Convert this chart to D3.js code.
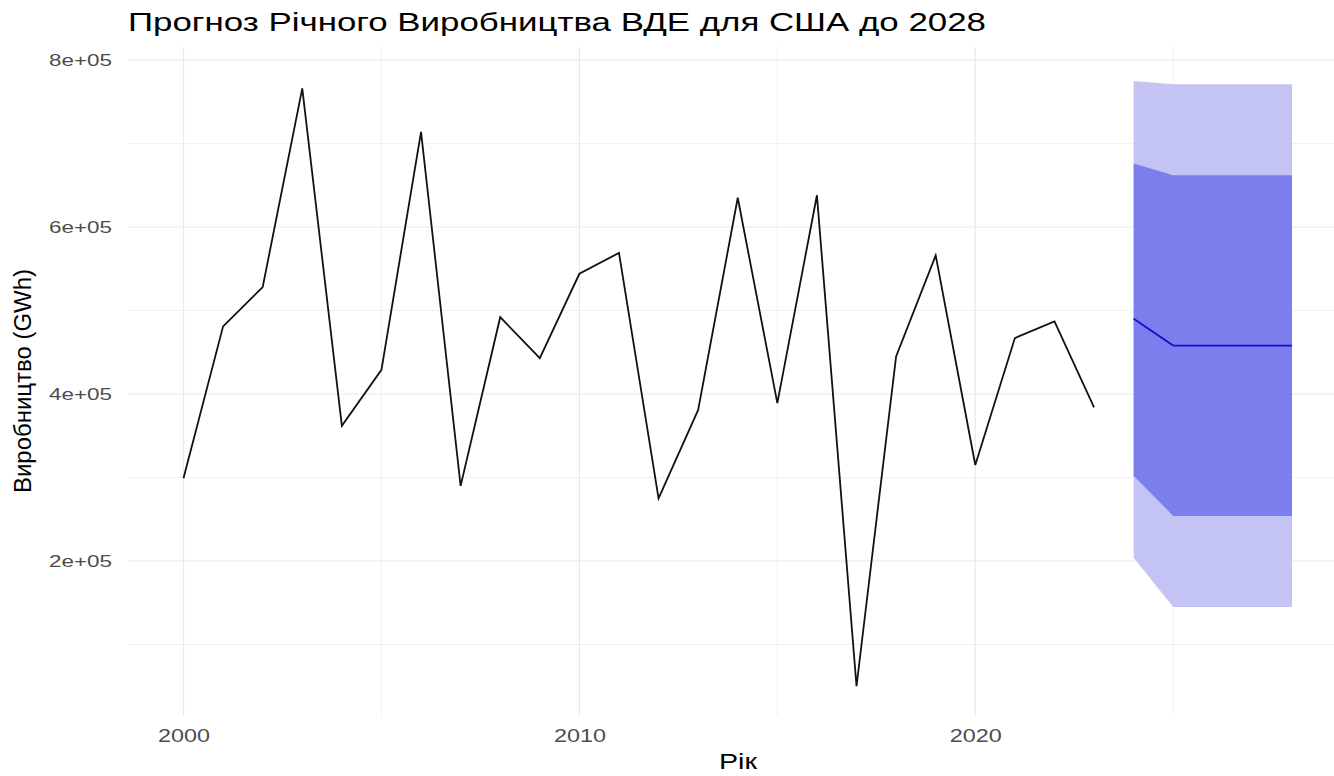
<!DOCTYPE html>
<html>
<head>
<meta charset="utf-8">
<script src="https://cdn.jsdelivr.net/npm/d3@7"></script>
<style>
  html, body { margin: 0; padding: 0; background: #ffffff; }
  svg { display: block; }
  text { font-family: "Liberation Sans", Arial, sans-serif; }
</style>
</head>
<body>
<script>
(function() {

  // historical series
  const years = [2000, 2001, 2002, 2003, 2004, 2005, 2006, 2007, 2008, 2009, 2010, 2011,
                 2012, 2013, 2014, 2015, 2016, 2017, 2018, 2019, 2020, 2021, 2022, 2023];
  const production = [299000, 481000, 528000, 766000, 362000, 429000, 714000, 290000,
                      492000, 443000, 544000, 569000, 275000, 381000, 635000, 389000,
                      638000, 50000, 445000, 566000, 315000, 467000, 487000, 384000];

  // forecast
  const forecastYears = [2024, 2025, 2026, 2027, 2028];
  const forecastMean  = [490000, 458000, 458000, 458000, 458000];
  const lo80 = [302000, 254000, 254000, 254000, 254000];
  const hi80 = [676000, 662000, 662000, 662000, 662000];
  const lo95 = [204000, 145000, 145000, 145000, 145000];
  const hi95 = [775000, 771000, 771000, 771000, 771000];

  // ticks
  const xTicks = [2000, 2010, 2020];
  const xMinor = [2005, 2015, 2025];
  const yTicks = [200000, 400000, 600000, 800000];
  const yMinor = [100000, 300000, 500000, 700000];

  const width = 1334, height = 776;
  const panel = { left: 128, right: 1334, top: 47, bottom: 716 };

  let svg = d3.select("body")
    .append("svg")
    .attr("width", width)
    .attr("height", height);

  let xScale = d3.scaleLinear()
    .domain([2000, 2028])
    .range([183.5, 1292]);

  let yScale = d3.scaleLinear()
    .domain([0, 800000])
    .range([728, 60]);

  // R style scientific labels, e.g. 8e+05
  function sci(v) {
    let parts = v.toExponential(0).split("e");
    let exp = parts[1];
    return parts[0] + "e" + exp[0] + exp.slice(1).padStart(2, "0");
  }

  // grid
  let grid = svg.append("g");
  grid.selectAll(".ymin").data(yMinor).enter().append("line")
    .attr("x1", panel.left).attr("x2", panel.right)
    .attr("y1", d => yScale(d)).attr("y2", d => yScale(d))
    .attr("stroke", "#ededed").attr("stroke-width", 0.8);
  grid.selectAll(".xmin").data(xMinor).enter().append("line")
    .attr("x1", d => xScale(d)).attr("x2", d => xScale(d))
    .attr("y1", panel.top).attr("y2", panel.bottom)
    .attr("stroke", "#ededed").attr("stroke-width", 0.8);
  grid.selectAll(".ymaj").data(yTicks).enter().append("line")
    .attr("x1", panel.left).attr("x2", panel.right)
    .attr("y1", d => yScale(d)).attr("y2", d => yScale(d))
    .attr("stroke", "#e9e9e9").attr("stroke-width", 1.2);
  grid.selectAll(".xmaj").data(xTicks).enter().append("line")
    .attr("x1", d => xScale(d)).attr("x2", d => xScale(d))
    .attr("y1", panel.top).attr("y2", panel.bottom)
    .attr("stroke", "#e9e9e9").attr("stroke-width", 1.2);

  // forecast bands
  let fc = forecastYears.map((y, i) => ({
    year: y, mean: forecastMean[i], lo80: lo80[i], hi80: hi80[i], lo95: lo95[i], hi95: hi95[i]
  }));

  let area95 = d3.area()
    .x(d => xScale(d.year))
    .y0(d => yScale(d.lo95))
    .y1(d => yScale(d.hi95));
  let area80 = d3.area()
    .x(d => xScale(d.year))
    .y0(d => yScale(d.lo80))
    .y1(d => yScale(d.hi80));

  svg.append("path").datum(fc).attr("d", area95).attr("fill", "#c4c4f4");
  svg.append("path").datum(fc).attr("d", area80).attr("fill", "#7d7eee");

  svg.append("path").datum(fc)
    .attr("d", d3.line().x(d => xScale(d.year)).y(d => yScale(d.mean)))
    .attr("fill", "none")
    .attr("stroke", "#1010cc")
    .attr("stroke-width", 1.8);

  // history
  let hist = years.map((y, i) => ({ year: y, value: production[i] }));
  svg.append("path").datum(hist)
    .attr("d", d3.line().x(d => xScale(d.year)).y(d => yScale(d.value)))
    .attr("fill", "none")
    .attr("stroke", "#111111")
    .attr("stroke-width", 1.8)
    .attr("stroke-linejoin", "miter");

  // axes (no lines, labels only)
  let yAxis = d3.axisLeft(yScale).tickValues(yTicks).tickFormat(sci).tickSize(0).tickPadding(16);
  let yg = svg.append("g").attr("transform", "translate(" + panel.left + ",0)").call(yAxis);
  yg.select(".domain").remove();
  yg.selectAll("text")
    .attr("dy", "0.36em")
    .style("font-size", "16.5px")
    .attr("fill", "#4d4d4d")
    .attr("textLength", 63)
    .attr("lengthAdjust", "spacingAndGlyphs");

  let xAxis = d3.axisBottom(xScale).tickValues(xTicks).tickFormat(d3.format("d")).tickSize(0).tickPadding(14);
  let xg = svg.append("g").attr("transform", "translate(0," + panel.bottom + ")").call(xAxis);
  xg.select(".domain").remove();
  xg.selectAll("text")
    .style("font-size", "17.5px")
    .attr("fill", "#4d4d4d")
    .attr("textLength", 52)
    .attr("lengthAdjust", "spacingAndGlyphs");

  // labels
  svg.append("text")
    .attr("x", 128)
    .attr("y", 31)
    .style("font-size", "25px")
    .attr("fill", "#000000")
    .attr("textLength", 858)
    .attr("lengthAdjust", "spacingAndGlyphs")
    .text("Прогноз Річного Виробництва ВДЕ для США до 2028");

  svg.append("text")
    .attr("x", 738)
    .attr("y", 769)
    .attr("text-anchor", "middle")
    .style("font-size", "22px")
    .attr("fill", "#000000")
    .attr("textLength", 38)
    .attr("lengthAdjust", "spacingAndGlyphs")
    .text("Рік");

  svg.append("text")
    .attr("transform", "translate(31, 381)rotate(-90)")
    .attr("text-anchor", "middle")
    .style("font-size", "23px")
    .attr("fill", "#000000")
    .attr("textLength", 224)
    .attr("lengthAdjust", "spacingAndGlyphs")
    .text("Виробництво (GWh)");

})();
</script>
</body>
</html>
